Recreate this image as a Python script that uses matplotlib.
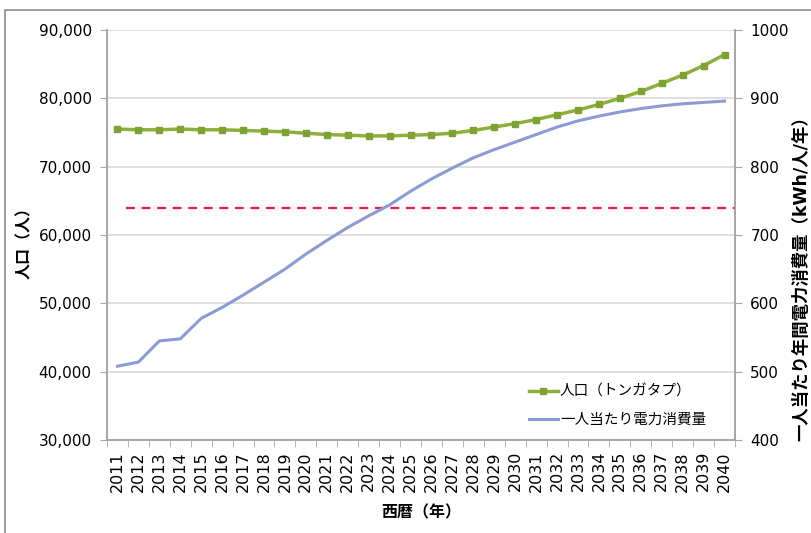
import matplotlib
matplotlib.use('Agg')
import matplotlib.pyplot as plt
from matplotlib.patches import Rectangle
from matplotlib.ticker import FuncFormatter, MultipleLocator, FixedLocator
import numpy as np

plt.rcParams['font.family'] = ['DejaVu Sans', 'Noto Sans CJK JP']

years = list(range(2011, 2041))

# 人口（トンガタプ）
population = [75500, 75400, 75400, 75500, 75400, 75400, 75300, 75200, 75100, 74900,
              74700, 74600, 74500, 74500, 74600, 74700, 74900, 75300, 75800, 76300,
              76900, 77600, 78300, 79100, 80000, 81000, 82200, 83400, 84800, 86400]

# 一人当たり電力消費量 (kWh/人/年)
per_capita = [508, 514, 545, 548, 578, 594, 612, 631, 650, 672,
              692, 711, 728, 744, 764, 782, 798, 813, 825, 836,
              847, 858, 867, 874, 880, 885, 889, 892, 894, 896]

ref_level = 740

fig = plt.figure(figsize=(8.12, 5.33), dpi=100)
ax = fig.add_axes([107/812, 1 - 440/533, (735 - 107)/812, (440 - 30)/533])
ax2 = ax.twinx()

x = np.arange(len(years))

ax.plot(x, population, color='#8DB03C', linewidth=2.5, marker='s', markersize=5,
        markerfacecolor='#7FA332', markeredgecolor='#7FA332', zorder=4,
        label='人口（トンガタプ）')
ax2.plot(x, per_capita, color='#8C9AD6', linewidth=2.2, zorder=3,
         label='一人当たり電力消費量')
ax2.plot([0.4, 29.5], [ref_level, ref_level], color='#F0184A', linewidth=1.6,
         linestyle=(0, (4, 3)), zorder=2)

ax.set_xlim(-0.5, len(years) - 0.5)
ax.set_ylim(30000, 90000)
ax2.set_ylim(400, 1000)
ax.yaxis.set_major_locator(MultipleLocator(10000))
ax2.yaxis.set_major_locator(MultipleLocator(100))
ax.yaxis.set_major_formatter(FuncFormatter(lambda v, p: f'{int(v):,}'))

ax.set_xticks(x)
ax.set_xticklabels([str(y) for y in years], rotation=90, fontsize=11.5)
ax.xaxis.set_minor_locator(FixedLocator(np.arange(-0.5, len(years), 1)))
ax.tick_params(axis='x', which='major', length=0, pad=8)
ax.tick_params(axis='x', which='minor', length=5, color='#A6A6A6', direction='out')
ax.tick_params(axis='y', length=5, color='#A6A6A6', labelsize=11, pad=6)
ax2.tick_params(axis='y', length=5, color='#A6A6A6', labelsize=11, pad=6)

ax.grid(True, axis='y', color='#D9D9D9', linewidth=1.2)
ax.set_axisbelow(True)

for a in (ax, ax2):
    a.spines['top'].set_visible(False)
    for s in ('left', 'right', 'bottom'):
        a.spines[s].set_color('#A6A6A6')
        a.spines[s].set_linewidth(1.2)

ax.set_ylabel('人口（人）', fontsize=11.5, fontweight='bold')
ax.yaxis.set_label_coords(-0.119, 0.49)
ax.set_xlabel('西暦（年）', fontsize=11.5, fontweight='bold')
ax.xaxis.set_label_coords(0.5, -0.158)
ax2.set_ylabel('一人当たり年間電力消費量（kWh/人/年）', fontsize=12.5,
               fontweight='bold', rotation=90)
ax2.yaxis.set_label_coords(1.091, 0.405)

h1, l1 = ax.get_legend_handles_labels()
h2, l2 = ax2.get_legend_handles_labels()
leg = ax.legend(h1 + h2[:1], l1 + l2[:1], loc='lower right',
                bbox_to_anchor=(0.975, 0.0), frameon=False, fontsize=10.5,
                handlelength=2.0, handletextpad=0.15, labelspacing=0.9)

fig.patches.append(Rectangle((5/812, -0.1), 1.2, 1 - 10/533 + 0.1,
                             transform=fig.transFigure, fill=False,
                             edgecolor='#8C8C8C', linewidth=1.2))

fig.savefig('out.png', dpi=100)
